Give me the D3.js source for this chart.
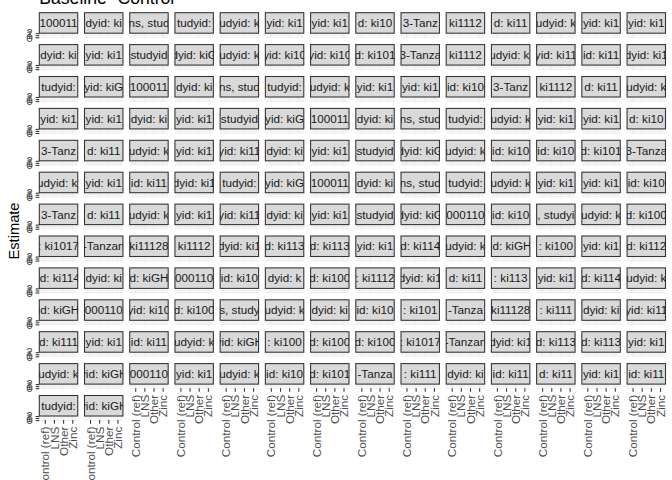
<!DOCTYPE html>
<html><head><meta charset="utf-8">
<script src="https://cdn.jsdelivr.net/npm/d3@7"></script>
<style>body{margin:0;background:#fff}svg{display:block}</style>
</head><body>
<script>
const chartTitle = "Baseline- Control";
const yTitle = "Estimate";
const xCategories = ["Control (ref)", "LNS", "Other", "Zinc"];
const yTickValues = [0, 1, 2];
const yDomain = [0, 2];
const nCols = 14;
const facetLabels = [
  "100011","dyid: ki","ns, stud","tudyid:","udyid: k","yid: ki1","yid: ki1","d: ki10","3-Tanz","ki1112","d: ki11","udyid: k","yid: ki1","yid: ki1",
  "dyid: ki","yid: ki1","studyid","dyid: kiG","udyid: k","yid: ki10","yid: ki10","d: ki101","3-Tanza","ki1112","udyid: ki","yid: ki11","id: ki11","dyid: ki1",
  "tudyid:","yid: kiG","100011","dyid: ki","ns, stud","tudyid:","udyid: k","yid: ki1","yid: ki1","id: ki10","3-Tanz","ki1112","d: ki11","udyid: k",
  "yid: ki1","yid: ki1","dyid: ki","yid: ki1","studyid","yid: kiG","100011","dyid: ki","ns, stud","tudyid:","udyid: k","yid: ki1","yid: ki1","d: ki10",
  "3-Tanz","d: ki11","udyid: k","yid: ki1","yid: ki11","dyid: ki","yid: ki1","studyid","dyid: kiG","udyid: k","id: ki10","id: ki10","d: ki101","3-Tanza",
  "udyid: ki","yid: ki1","id: ki11","dyid: ki1","tudyid:","yid: kiG","100011","dyid: ki","ns, stud","tudyid:","udyid: k","yid: ki1","yid: ki1","id: ki10",
  "3-Tanz","d: ki11","udyid: k","yid: ki1","yid: ki11","dyid: ki","yid: ki1","studyid","dyid: kiG","000110","id: ki10",", studyi","udyid: k","d: ki100",
  ": ki1017","-Tanzan","ki11128","ki1112","dyid: ki1","d: ki113","d: ki113","yid: ki1","d: ki114","udyid: k","id: kiGH",": ki100","yid: ki1","d: ki112",
  "id: ki114","dyid: ki","d: kiGH","000110","id: ki10","dyid: k","d: ki100",": ki1112","dyid: ki1","d: ki11",": ki113","yid: ki1","d: ki114","udyid: k",
  "id: kiGH","000110","yid: ki10","d: ki100","s, study","udyid: k","dyid: ki","id: ki10",": ki101","-Tanza","ki11128",": ki111","dyid: ki","yid: ki11",
  "d: ki111","yid: ki1","id: ki11","udyid: k","yid: kiGH",": ki100","d: ki100","d: ki100",": ki1017","-Tanzan","dyid: ki1","d: ki113","d: ki113","yid: ki1",
  "udyid: k","yid: kiGH","000110","yid: ki1","udyid: k","id: ki10","d: ki101","-Tanza",": ki111","dyid: ki","id: ki11","d: ki11","yid: ki1","id: ki11",
  "tudyid:","yid: kiGH"
];

const W = 672, H = 480;
const FONT = "'Liberation Sans', Arial, Helvetica, sans-serif";
const nPanels = facetLabels.length;
const nRows = Math.ceil(nPanels / nCols);

const svg = d3.select("body").append("svg").attr("width", W).attr("height", H)
  .style("font-family", FONT);
svg.append("rect").attr("width", W).attr("height", H).attr("fill", "#fff");

const colScale = d3.scaleBand().domain(d3.range(nCols)).range([39.3, 665.5]).paddingInner(0.15);
const rowScale = d3.scaleBand().domain(d3.range(nRows)).range([12.7, 420.1]).paddingInner(0.229);
const stripH = 20.5;
const pw = colScale.bandwidth();
const x = d3.scalePoint().domain(xCategories).range([0, pw]).padding(0.6);

const defs = svg.append("defs");

facetLabels.forEach((lab, i) => {
  const c = i % nCols, r = Math.floor(i / nCols);
  const px = colScale(c), top = rowScale(r);
  const pTop = top + stripH, pBot = top + rowScale.bandwidth();
  const y = d3.scaleLinear().domain(yDomain).range([pBot, pTop]);
  const g = svg.append("g").attr("transform", `translate(${px},0)`);

  // panel background and grid
  g.append("rect").attr("x", 0).attr("y", pTop).attr("width", pw).attr("height", pBot - pTop).attr("fill", "#fff");
  g.selectAll("line.gx").data(xCategories).join("line").attr("class", "gx")
    .attr("x1", d => x(d)).attr("x2", d => x(d)).attr("y1", pTop).attr("y2", pBot)
    .attr("stroke", "#EBEBEB").attr("stroke-width", 1.07);
  g.selectAll("line.gy").data(yTickValues).join("line").attr("class", "gy")
    .attr("x1", 0).attr("x2", pw).attr("y1", d => y(d)).attr("y2", d => y(d))
    .attr("stroke", "#EBEBEB").attr("stroke-width", 1.07);

  // strip
  const cid = "clip" + i;
  defs.append("clipPath").attr("id", cid).append("rect")
    .attr("x", px).attr("y", top).attr("width", pw).attr("height", stripH);
  g.append("rect").attr("x", 0).attr("y", top).attr("width", pw).attr("height", stripH)
    .attr("fill", "#D9D9D9").attr("stroke", "#333333").attr("stroke-width", 1.07);
  svg.append("g").attr("clip-path", `url(#${cid})`).append("text")
    .attr("x", px + pw / 2).attr("y", top + stripH / 2).attr("dy", "0.36em")
    .attr("text-anchor", "middle").attr("font-size", 11.7).attr("fill", "#1A1A1A").text(lab);

  // y axis for first column
  if (c === 0) {
    const ay = svg.append("g").attr("transform", `translate(${px},0)`)
      .call(d3.axisLeft(y).tickValues(yTickValues).tickSize(3.67).tickPadding(2.9).tickFormat(d3.format("d")));
    ay.attr("font-family", null);
    ay.select(".domain").remove();
    ay.selectAll(".tick line").attr("stroke", "#333333").attr("stroke-width", 1.07);
    ay.selectAll(".tick text").attr("fill", "#4D4D4D").attr("font-size", 11.7).style("font-family", FONT);
  }
  // x axis for bottom panels
  if (i + nCols >= nPanels) {
    const ax = svg.append("g").attr("transform", `translate(${px},${pBot})`)
      .call(d3.axisBottom(x).tickSize(3.67).tickPadding(2.9));
    ax.attr("font-family", null);
    ax.select(".domain").remove();
    ax.selectAll(".tick line").attr("stroke", "#333333").attr("stroke-width", 1.07);
    ax.selectAll(".tick text").attr("fill", "#4D4D4D").attr("font-size", 11.7).style("font-family", FONT)
      .attr("text-anchor", "end").attr("transform", "translate(0,6.6) rotate(-90)")
      .attr("x", 0).attr("y", 0).attr("dy", "0.35em");
  }
});

svg.append("text").attr("x", 39.3).attr("y", 3.5).attr("font-size", 17.6).attr("fill", "#000").text(chartTitle);
svg.append("text").attr("transform", "translate(18.5,231) rotate(-90)").attr("text-anchor", "middle")
  .attr("font-size", 14.67).attr("fill", "#000").text(yTitle);
</script>
</body></html>
